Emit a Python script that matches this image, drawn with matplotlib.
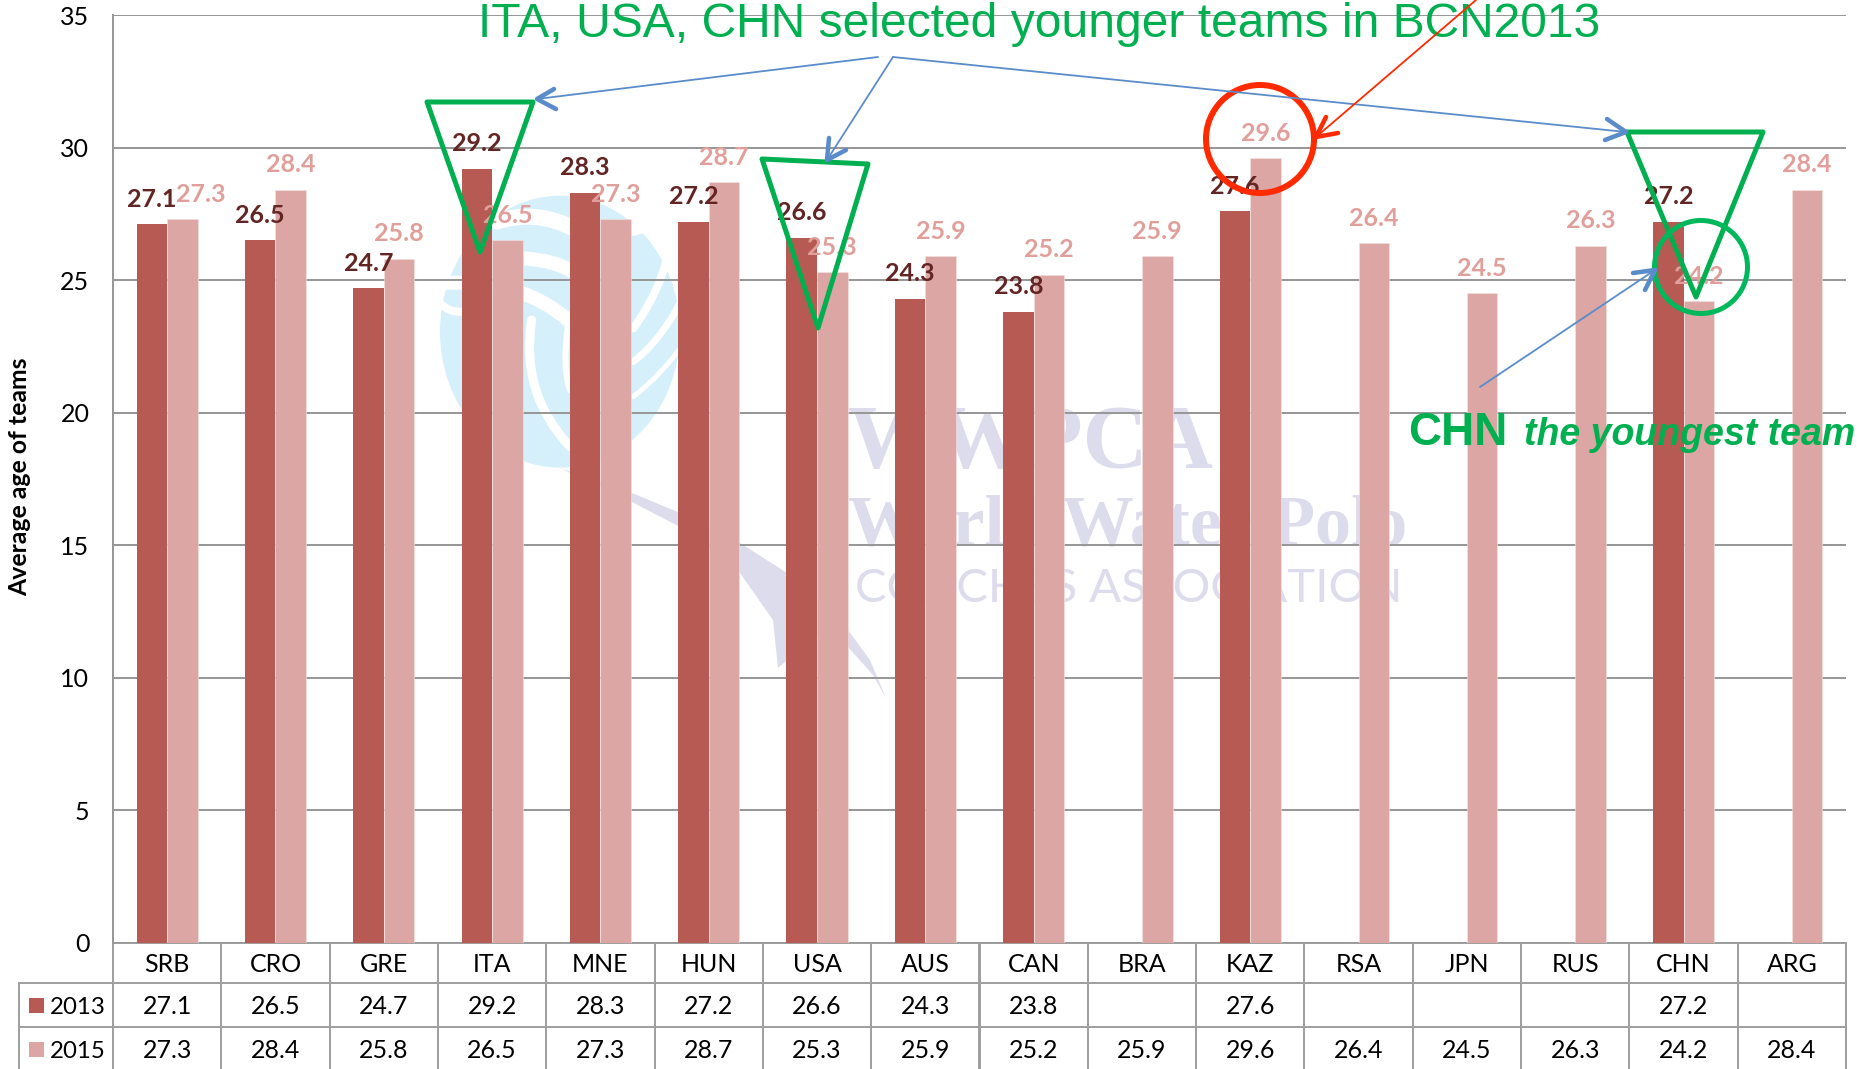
import numpy as np
from matplotlib import pyplot as plt
from matplotlib.patches import Ellipse, PathPatch, Polygon, Rectangle
from matplotlib.path import Path
from matplotlib.table import Table

teams = ['SRB', 'CRO', 'GRE', 'ITA', 'MNE', 'HUN', 'USA', 'AUS', 'CAN', 'BRA', 'KAZ', 'RSA', 'JPN', 'RUS', 'CHN', 'ARG']
age_2013 = [27.1, 26.5, 24.7, 29.2, 28.3, 27.2, 26.6, 24.3, 23.8, None, 27.6, None, None, None, 27.2, None]
age_2015 = [27.3, 28.4, 25.8, 26.5, 27.3, 28.7, 25.3, 25.9, 25.2, 25.9, 29.6, 26.4, 24.5, 26.3, 24.2, 28.4]
series_names = ['2013', '2015']
y_ticks = [0, 5, 10, 15, 20, 25, 30, 35]

W, H = 1858, 1069
DARK = '#B85A54'
LIGHT = '#DBA6A3'
DARK_TEXT = '#632523'
LIGHT_TEXT = '#E19F9B'
GRID = '#989898'
GREEN = '#00B050'
BLUE = '#5A8CCB'
RED = '#FF2A00'
BODY_FONT = 'Lato'
px = 0.72  # line widths in picture pixels

AX_L, AX_R, AX_T, AX_B = 113, 1846, 15, 943

fig = plt.figure(figsize=(W / 100, H / 100), dpi=100)

# watermark sits behind the chart
back = fig.add_axes([0, 0, 1, 1], zorder=0)
back.set_xlim(0, W)
back.set_ylim(H, 0)
back.axis('off')

LOGO_BLUE = '#D5F0FB'
LOGO_GREY = '#DCDCEC'


def logo(x, y):
    return 420 + x / 3, 180 + y / 3


def streak(p0, p1, p2, width):
    verts = [logo(*p0), logo(*p1), logo(*p2)]
    back.add_patch(PathPatch(Path(verts, [Path.MOVETO, Path.CURVE3, Path.CURVE3]), fc='none', ec='white',
                             lw=width * px, capstyle='round', zorder=2))


back.add_patch(Ellipse(logo(420, 455), 240, 272, fc=LOGO_BLUE, ec='none', zorder=1))
streak((230, 125), (350, 85), (470, 150), 16)
streak((640, 150), (700, 125), (790, 150), 12)
streak((310, 235), (400, 240), (460, 275), 14)
streak((50, 310), (300, 290), (450, 425), 14)
streak((60, 370), (90, 400), (130, 395), 8)
streak((335, 420), (300, 640), (450, 800), 9)
streak((445, 430), (425, 560), (450, 630), 6)
streak((755, 180), (725, 330), (640, 445), 8)
streak((790, 350), (725, 480), (640, 545), 7)
streak((800, 480), (725, 585), (640, 650), 5)

swoosh = [(560, 468), (632, 493), (680, 513), (740, 543), (787, 573), (820, 603), (848, 630), (870, 660), (886, 698),
          (873, 675), (848, 647), (820, 636), (787, 660), (778, 668), (773, 620), (740, 573), (680, 527), (632, 502)]
back.add_patch(Polygon(swoosh, closed=True, fc=LOGO_GREY, ec='none', zorder=1))

back.text(848, 468, 'WWPCA', family='Liberation Serif', weight='bold', size=65, color=LOGO_GREY, va='baseline')
back.text(848, 545, 'World Water Polo', family='Liberation Serif', weight='bold', size=52, color=LOGO_GREY, va='baseline')
back.text(855, 602, 'COACHES ASSOCIATION', family='Lato', weight='normal', size=34, color=LOGO_GREY, va='baseline')

ax = fig.add_axes([AX_L / W, 1 - AX_B / H, (AX_R - AX_L) / W, (AX_B - AX_T) / H], zorder=1)
ax.patch.set_alpha(0)

x = np.arange(len(teams)) + 0.5
bar_w = 0.282
for i, (a, b) in enumerate(zip(age_2013, age_2015)):
    if a is not None:
        ax.bar(x[i] - bar_w / 2, a, bar_w, color=DARK, zorder=3)
        ax.annotate(f'{a:.1f}', (x[i] - bar_w / 2, a), xytext=(0, 27 * px), textcoords='offset points',
                    ha='center', va='center_baseline', family=BODY_FONT, weight='bold', size=18, color=DARK_TEXT, zorder=4)
    ax.bar(x[i] + bar_w / 2, b, bar_w, color=LIGHT, edgecolor='#F3E4E3', linewidth=0.4, zorder=3)
    # SRB 2015 label was pushed aside in the original
    nudge = 18 if teams[i] == 'SRB' else 0
    ax.annotate(f'{b:.1f}', (x[i] + bar_w / 2, b), xytext=(nudge * px, 27 * px), textcoords='offset points',
                ha='center', va='center_baseline', family=BODY_FONT, weight='bold', size=18, color=LIGHT_TEXT, zorder=4)

ax.set_xlim(0, len(teams))
ax.set_ylim(0, 35)
ax.set_yticks(y_ticks)
ax.set_xticks([])
ax.tick_params(axis='y', length=0, pad=17, labelsize=18)
for label in ax.get_yticklabels():
    label.set_fontfamily(BODY_FONT)
    label.set_verticalalignment('center_baseline')
ax.grid(True, axis='y', color=GRID, linewidth=2 * px, zorder=1)
ax.set_axisbelow(True)
for side in ['top', 'right', 'bottom']:
    ax.spines[side].set_visible(False)
ax.spines['left'].set_color(GRID)
ax.spines['left'].set_linewidth(2 * px)
ax.set_ylabel('Average age of teams', family=BODY_FONT, weight='bold', size=17.8)
ax.yaxis.set_label_coords((31 - AX_L) / (AX_R - AX_L), (AX_B - 477) / (AX_B - AX_T))

# data table under the chart
TAB_L, TAB_B = 19, 1071
span_x = AX_R - AX_L
span_y = AX_B - AX_T
tab = Table(ax, bbox=[(TAB_L - AX_L) / span_x, (AX_B - TAB_B) / span_y, (AX_R - TAB_L) / span_x, (TAB_B - AX_B) / span_y])
tab.auto_set_font_size(False)
col_w = 1 / len(teams)
row_h = [40 / span_y, 44 / span_y, 44 / span_y]
label_w = (AX_L - TAB_L) / span_x
rows = [teams,
        ['' if v is None else f'{v:.1f}' for v in age_2013],
        ['' if v is None else f'{v:.1f}' for v in age_2015]]
for r, row in enumerate(rows):
    if r > 0:
        cell = tab.add_cell(r, 0, label_w, row_h[r], text=series_names[r - 1], loc='left')
        cell.PAD = 0.33
    for c, txt in enumerate(row):
        tab.add_cell(r, c + 1, col_w, row_h[r], text=txt, loc='center')
tab.set_fontsize(18)
for (r, c), cell in tab.get_celld().items():
    cell.set_edgecolor('#A0A0A0')
    cell.set_linewidth(2 * px)
    cell.set_facecolor('none')
    cell.get_text().set_fontfamily(BODY_FONT)
    cell.get_text().set_verticalalignment('center_baseline')
    if c == 0:
        cell.get_text().set_fontsize(17.3)
ax.add_table(tab)

# hand drawn annotations over the chart
top = fig.add_axes([0, 0, 1, 1], zorder=2)
top.axis('off')

top.add_patch(Rectangle((29, 998), 15, 15, fc=DARK, ec='none'))
top.add_patch(Rectangle((29, 1042), 15, 15, fc=LIGHT, ec='none'))

top.text(478, 37, 'ITA, USA, CHN selected younger teams in BCN2013', family='Liberation Sans', size=34.6,
         color=GREEN, va='baseline', zorder=1)
top.text(1408, 445, 'CHN', family='Liberation Sans', weight='bold', size=33, color=GREEN, va='baseline')
top.text(1524, 445, 'the youngest team', family='Liberation Sans', weight='bold', style='italic', size=27,
         color=GREEN, va='baseline')

triangles = [[(427, 102), (533, 102), (480, 252)],
             [(762, 159), (868, 164), (818, 328)],
             [(1627, 132), (1763, 132), (1696, 297)]]
for tri in triangles:
    top.add_patch(Polygon(tri, closed=True, fc='none', ec=GREEN, lw=5 * px, joinstyle='round'))

top.add_patch(Ellipse((1260, 139), 108, 108, fc='none', ec=RED, lw=6 * px))
top.add_patch(Ellipse((1701, 267), 93, 93, fc='none', ec='#00B85C', lw=5 * px))

arrows = [((878, 57), (537, 99), (554, 89), (556, 109), BLUE),
          ((893, 57), (827, 160), (829, 138), (846, 150), BLUE),
          ((893, 57), (1626, 132), (1607, 119), (1605, 140), BLUE),
          ((1480, 387), (1655, 270), (1633, 273), (1645, 290), BLUE),
          ((1476, 0), (1316, 137), (1326, 117), (1338, 133), RED)]
for tail, tip, barb1, barb2, color in arrows:
    top.plot([tail[0], tip[0]], [tail[1], tip[1]], color=color, lw=1.8 * px, solid_capstyle='round')
    top.plot([barb1[0], tip[0], barb2[0]], [barb1[1], tip[1], barb2[1]], color=color, lw=4.5 * px,
             solid_capstyle='round', solid_joinstyle='round')
top.set_xlim(0, W)
top.set_ylim(H, 0)

fig.savefig('out.png', dpi=100)
